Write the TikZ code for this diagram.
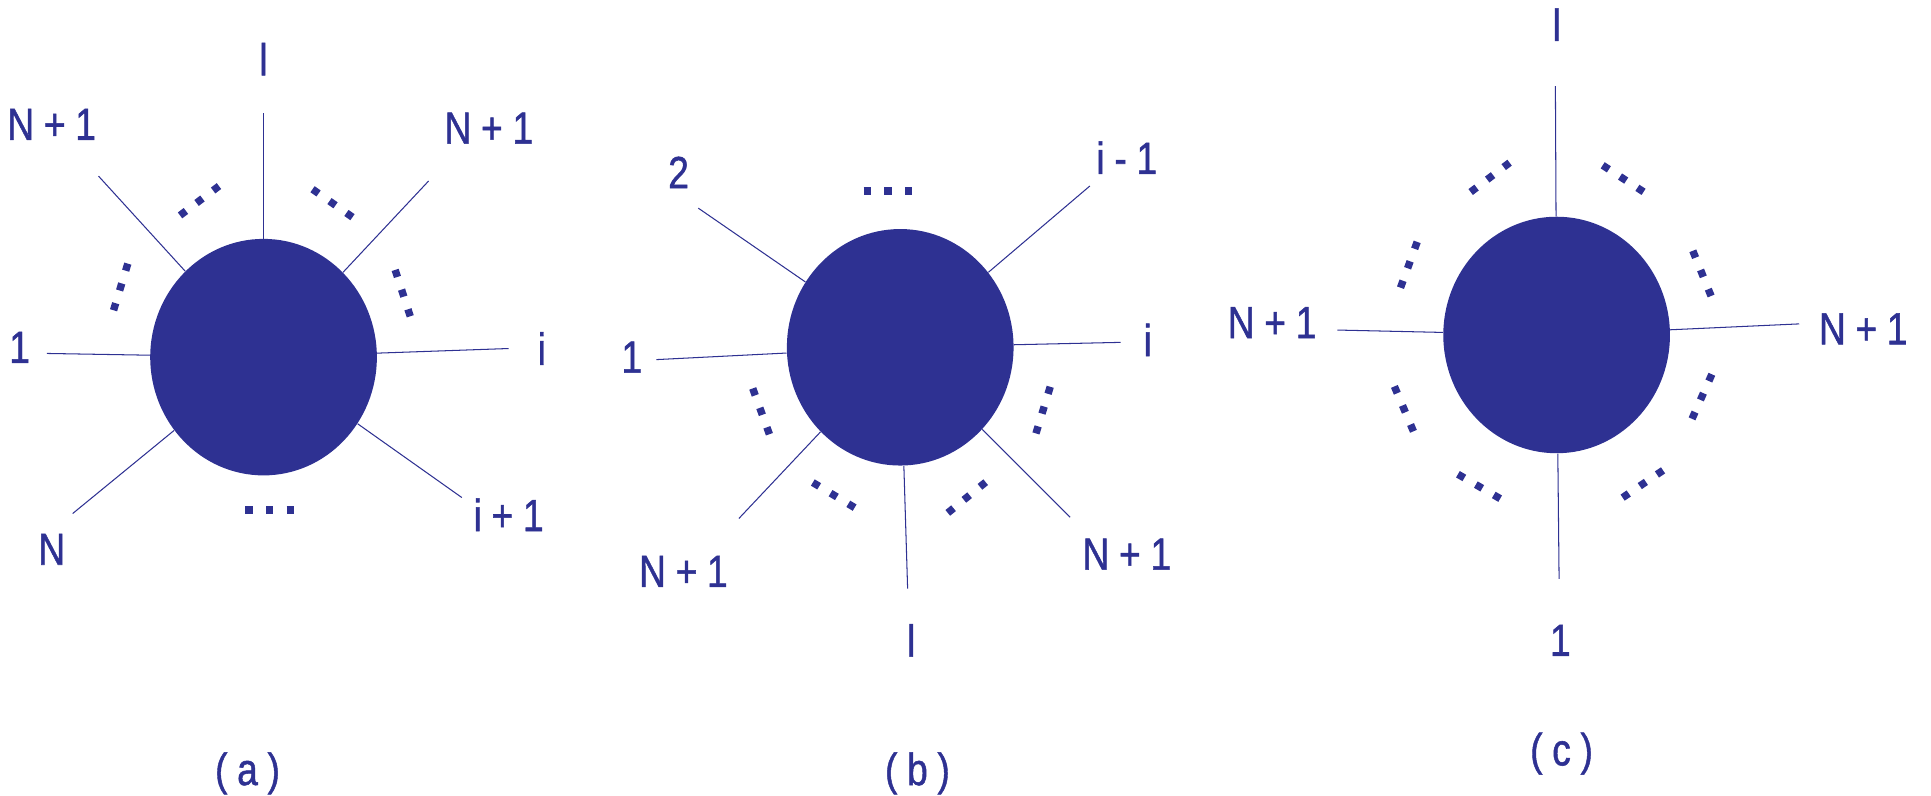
\documentclass[tikz,border=0pt]{standalone}
\usepackage{fontspec}
\usepackage{graphicx}
\setmainfont{Liberation Sans}
\newfontfamily\lblfont{Liberation Sans}[FakeBold=1.2]
\usetikzlibrary{shapes.geometric}
\definecolor{blobblue}{RGB}{46,49,146}
\newcommand{\lbltext}[1]{\scalebox{0.86}[1.04]{#1}}
\newcommand{\gap}{\hspace{0.26em}}

\begin{document}
\begin{tikzpicture}[x=0.025cm, y=-0.025cm,
  blob/.style={ellipse, fill=blobblue, draw=none, inner sep=0pt,
               minimum width=4.6cm, minimum height=4.8cm},
  leg/.style={blobblue, line width=0.6pt},
  lbl/.style={text=blobblue, inner sep=1pt, font=\lblfont\fontsize{25}{30}\selectfont},
  dotrow/.style={blobblue, line width=0.15cm, dash pattern=on 0.15cm off 0.27cm}]

\useasboundingbox (0,0) rectangle (1568,646);

% ---- Diagram (a) ----
\node[blob] (bA) at (214,290) {};
\foreach \n/\ex/\ey in {1/214/92, 2/80/143, 3/348/147, 4/38/287, 5/413/283, 6/59/417, 7/375/404} {
  \coordinate (aE\n) at (\ex,\ey);
  \draw[leg] (bA) -- (aE\n);
}
\node[lbl] (aL1) at (214,48) {\lbltext{l}};
\node[lbl] (aL2) at (42,101) {\lbltext{N\gap+\gap1}};
\node[lbl] (aL3) at (397,104) {\lbltext{N\gap+\gap1}};
\node[lbl] (aL4) at (16,282) {\lbltext{1}};
\node[lbl] (aL5) at (440,283) {\lbltext{i}};
\node[lbl] (aL6) at (42,446) {\lbltext{N}};
\node[lbl] (aL7) at (413,418) {\lbltext{i\gap+\gap1}};
\foreach \x/\y/\a in {162/163/-37, 270/165/35, 98/233/107, 327/238/72, 219/414/0}
  \draw[dotrow] (\x,\y) ++(\a:-19.8) -- ++(\a:39.6);
\node[lbl] (capA) at (201,628) {\lbltext{(\gap a\gap)}};

% ---- Diagram (b) ----
\node[blob] (bB) at (731,282) {};
\foreach \n/\ex/\ey in {1/567/169, 2/885/151, 3/533/292, 4/910/278, 5/600/421, 6/737/478, 7/869/420} {
  \coordinate (bE\n) at (\ex,\ey);
  \draw[leg] (bB) -- (bE\n);
}
\node[lbl] (bL1) at (551,140) {\lbltext{2}};
\node[lbl] (bL2) at (915,128) {\lbltext{i\gap-\gap1}};
\node[lbl] (bL3) at (513,290) {\lbltext{1}};
\node[lbl] (bL4) at (932,276) {\lbltext{i}};
\node[lbl] (bL5) at (555,464) {\lbltext{N\gap+\gap1}};
\node[lbl] (bL6) at (740,520) {\lbltext{l}};
\node[lbl] (bL7) at (915,450) {\lbltext{N\gap+\gap1}};
\foreach \x/\y/\a in {721/155/0, 618/334/70, 677/402/31, 785/404/-39, 847/333/107}
  \draw[dotrow] (\x,\y) ++(\a:-19.8) -- ++(\a:39.6);
\node[lbl] (capB) at (745,628) {\lbltext{(\gap b\gap)}};

% ---- Diagram (c) ----
\node[blob] (bC) at (1264,272) {};
\foreach \n/\ex/\ey in {1/1263/70, 2/1266/470, 3/1086/268, 4/1461/263} {
  \coordinate (cE\n) at (\ex,\ey);
  \draw[leg] (bC) -- (cE\n);
}
\node[lbl] (cL1) at (1264,20) {\lbltext{l}};
\node[lbl] (cL2) at (1267,520) {\lbltext{1}};
\node[lbl] (cL3) at (1033,262) {\lbltext{N\gap+\gap1}};
\node[lbl] (cL4) at (1513,267) {\lbltext{N\gap+\gap1}};
\foreach \x/\y/\a in {1210/144/-37, 1318/145/33, 1144/215/110, 1382/222/68,
                      1140/332/67, 1382/322/114, 1201/395/30, 1334/393/-34}
  \draw[dotrow] (\x,\y) ++(\a:-19.8) -- ++(\a:39.6);
\node[lbl] (capC) at (1268,612) {\lbltext{(\gap c\gap)}};

\end{tikzpicture}
\end{document}
